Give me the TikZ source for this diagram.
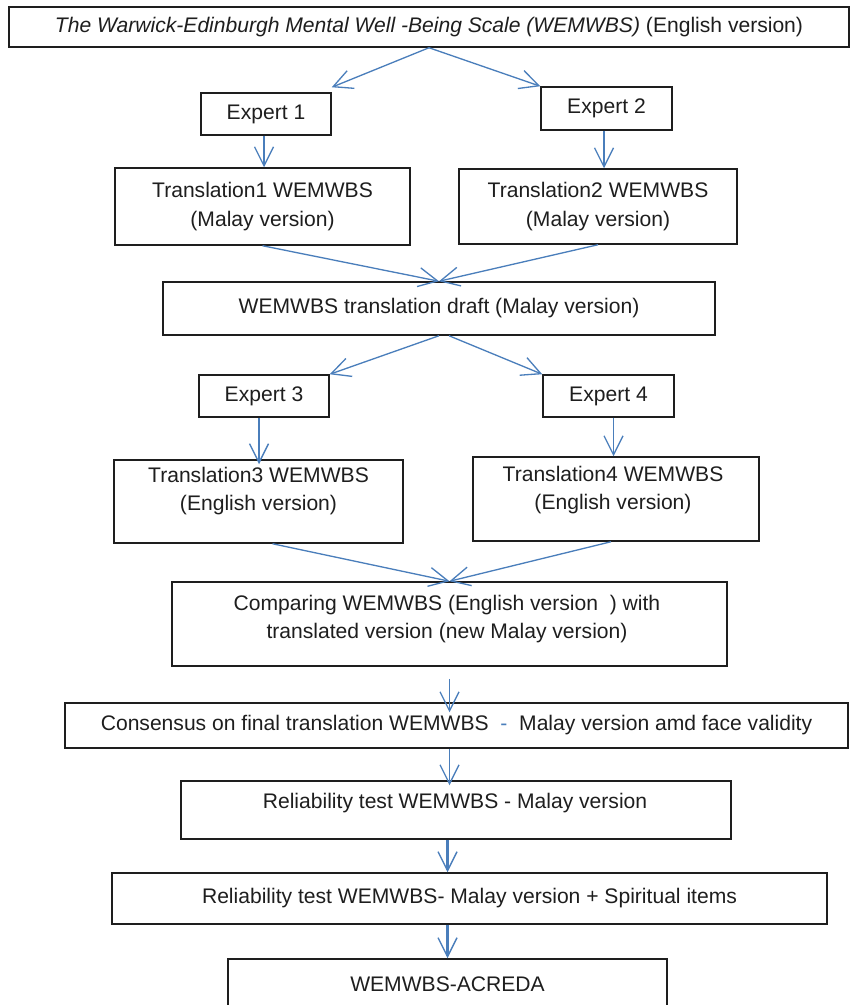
\documentclass[tikz,border=0pt]{standalone}
\usepackage{fontspec}
\setmainfont{Liberation Sans}
\usepackage{tikz}
\usetikzlibrary{arrows.meta}

\definecolor{arrowblue}{HTML}{4A7EBB}
\definecolor{boxline}{HTML}{1E1E1E}

\begin{document}
\begin{tikzpicture}[
  box/.style={draw=boxline, line width=.85pt, align=center, inner sep=0pt, text=boxline, font=\fontsize{12}{16}\selectfont},
  txt/.style={align=center, inner sep=0pt, text=boxline, font=\fontsize{12}{16}\selectfont},
  flow/.style={draw=arrowblue, line width=.75pt, -{Straight Barb[length=3.8mm,width=3.8mm]}},
  thickflow/.style={draw=arrowblue, line width=1.3pt, -{Straight Barb[length=3.8mm,width=3.8mm,line width=.8pt]}}]
\useasboundingbox (0,0) rectangle (17.08,-20.1);
\node[box, minimum width=16.8cm, minimum height=0.8cm] (top) at (8.58,-0.54) {{\itshape The Warwick-Edinburgh Mental Well -Being Scale (WEMWBS)} (English version)};
\node[box, minimum width=2.6cm, minimum height=0.84cm] (e1) at (5.32,-2.28) {Expert 1};
\node[box, minimum width=2.62cm, minimum height=0.86cm] (e2) at (12.13,-2.17) {Expert 2};
\node[box, minimum width=5.9cm, minimum height=1.54cm] (t1) at (5.25,-4.13) {Translation1 WEMWBS\\(Malay version)};
\node[box, minimum width=5.56cm, minimum height=1.5cm] (t2) at (11.96,-4.13) {Translation2 WEMWBS\\(Malay version)};
\node[box, minimum width=11.04cm, minimum height=1.06cm] (draft) at (8.78,-6.17) {WEMWBS translation draft (Malay version)};
\node[box, minimum width=2.6cm, minimum height=0.84cm] (e3) at (5.28,-7.92) {Expert 3};
\node[box, minimum width=2.62cm, minimum height=0.84cm] (e4) at (12.17,-7.92) {Expert 4};
\node[box, minimum width=5.78cm, minimum height=1.66cm] (t3) at (5.17,-10.03) {};
\node[txt] (t3txt) at (5.17,-9.82) {Translation3 WEMWBS\\(English version)};
\node[box, minimum width=5.72cm, minimum height=1.68cm] (t4) at (12.32,-9.98) {};
\node[txt] (t4txt) at (12.26,-9.8) {Translation4 WEMWBS\\(English version)};
\node[box, minimum width=11.1cm, minimum height=1.68cm] (cmp) at (8.99,-12.48) {};
\node[txt] (cmptxt) at (8.94,-12.38) {Comparing WEMWBS (English version~ ) with\\translated version (new Malay version)};
\node[box, minimum width=15.66cm, minimum height=0.9cm] (cons) at (9.13,-14.51) {Consensus on final translation WEMWBS\ \ {\color{arrowblue}-}\ \ Malay version amd face validity};
\node[box, minimum width=11cm, minimum height=1.16cm] (r1) at (9.12,-16.2) {};
\node[txt] (r1txt) at (9.1,-16.06) {Reliability test WEMWBS - Malay version};
\node[box, minimum width=14.3cm, minimum height=1.02cm] (r2) at (9.39,-17.97) {Reliability test WEMWBS- Malay version + Spiritual items};
\node[box, minimum width=8.78cm, minimum height=1.0cm] (acr) at (8.95,-19.68) {WEMWBS-ACREDA};
\draw[flow] (top.south) -- ([yshift=1mm]e1.north east);
\draw[flow] (top.south) -- (e2.north west);
\draw[flow] ([xshift=-0.4mm]e1.south) -- ([xshift=-0.4mm]e1.south |- t1.north);
\draw[flow] ([xshift=-0.5mm]e2.south) -- ([xshift=-0.5mm]e2.south |- t2.north);
\draw[flow] (t1.south) -- (draft.north);
\draw[flow] (t2.south) -- (draft.north);
\draw[flow] (draft.south) -- (e3.north east);
\draw[flow] ([xshift=2mm]draft.south) -- (e4.north west);
\draw[thickflow] ([xshift=-1mm]e3.south) -- ([xshift=-1mm,yshift=-1mm]e3.south |- t3.north);
\draw[flow] ([xshift=1mm]e4.south) -- ([xshift=1mm]e4.south |- t4.north);
\draw[flow] ([xshift=2.8mm]t3.south) -- (cmp.north);
\draw[flow] ([xshift=-1mm]t4.south) -- (cmp.north);
\draw[flow] ([yshift=-2.4mm]cmp.south) -- ([yshift=-2mm]cmp.south |- cons.north);
\draw[flow] (cmp.south |- cons.south) -- ([yshift=-1mm]cmp.south |- r1.north);
\draw[thickflow] (acr.north |- r1.south) -- (acr.north |- r2.north);
\draw[thickflow] (acr.north |- r2.south) -- (acr.north);
\end{tikzpicture}
\end{document}
